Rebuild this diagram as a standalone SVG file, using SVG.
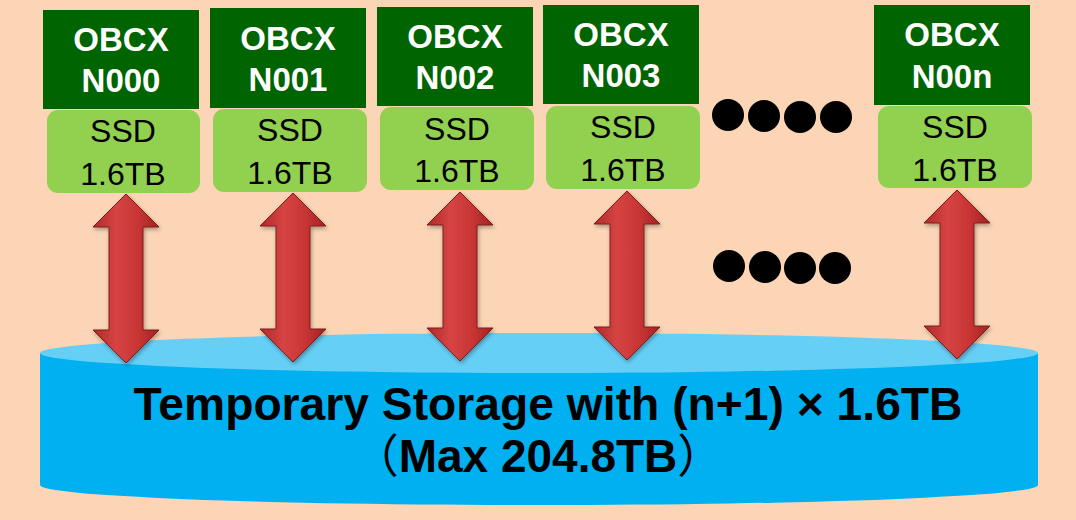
<svg xmlns="http://www.w3.org/2000/svg" width="1076" height="520" viewBox="0 0 1076 520">
<style>
.node{fill:#006400}
.ssd{fill:#92D050}
.nt{font-family:"Liberation Sans",Arial,sans-serif;font-weight:bold;font-size:33px;fill:#fff;text-anchor:middle}
.st{font-family:"Liberation Sans",Arial,sans-serif;font-size:32px;fill:#000;text-anchor:middle}
.dot{fill:#000}
.big{font-family:"Liberation Sans","Noto Sans CJK JP",sans-serif;font-weight:bold;font-size:46px;fill:#000;text-anchor:middle}
.cjk{font-family:"Noto Sans CJK JP",sans-serif;font-weight:normal}
</style>
<defs>
<linearGradient id="rg" x1="0" y1="0" x2="1" y2="0">
<stop offset="0" stop-color="#B02828"/>
<stop offset="0.35" stop-color="#D64444"/>
<stop offset="0.7" stop-color="#C73434"/>
<stop offset="1" stop-color="#A22222"/>
</linearGradient>
<filter id="sh" x="-30%" y="-10%" width="160%" height="130%">
<feGaussianBlur in="SourceAlpha" stdDeviation="2"/>
<feOffset dx="1" dy="2"/>
<feComponentTransfer><feFuncA type="linear" slope="0.35"/></feComponentTransfer>
<feMerge><feMergeNode/><feMergeNode in="SourceGraphic"/></feMerge>
</filter>
</defs>
<rect width="1076" height="520" fill="#FBD5B5"/>

<g id="storage">
<path d="M40 353 L40 485 A499 20 0 0 0 1038 485 L1038 353 Z" fill="#00B0F0"/>
<ellipse cx="539" cy="353" rx="499" ry="20" fill="#66CFF5"/>
<text class="big" x="548" y="420" textLength="829" lengthAdjust="spacingAndGlyphs">Temporary Storage with (n+1) × 1.6TB</text>
<text class="big" x="538" y="472"><tspan class="cjk">（</tspan>Max 204.8TB<tspan class="cjk">）</tspan></text>
</g>

<g id="n000">
<rect class="node" x="43" y="10" width="156" height="99"/>
<text class="nt" x="121" y="51">OBCX</text>
<text class="nt" x="121" y="92">N000</text>
<rect class="ssd" x="47" y="110" width="153" height="83" rx="11"/>
<text class="st" x="123" y="142">SSD</text>
<text class="st" x="123" y="185">1.6TB</text>
</g>
<g id="n001">
<rect class="node" x="210" y="8" width="156" height="100"/>
<text class="nt" x="288" y="50">OBCX</text>
<text class="nt" x="288" y="91">N001</text>
<rect class="ssd" x="213" y="109" width="154" height="83" rx="11"/>
<text class="st" x="290" y="141">SSD</text>
<text class="st" x="290" y="184">1.6TB</text>
</g>
<g id="n002">
<rect class="node" x="377" y="7" width="156" height="99"/>
<text class="nt" x="455" y="48">OBCX</text>
<text class="nt" x="455" y="89">N002</text>
<rect class="ssd" x="380" y="107" width="154" height="83" rx="11"/>
<text class="st" x="457" y="140">SSD</text>
<text class="st" x="457" y="182">1.6TB</text>
</g>
<g id="n003">
<rect class="node" x="543" y="5" width="156" height="99"/>
<text class="nt" x="621" y="46">OBCX</text>
<text class="nt" x="621" y="87">N003</text>
<rect class="ssd" x="546" y="106" width="154" height="83" rx="11"/>
<text class="st" x="623" y="138">SSD</text>
<text class="st" x="623" y="181">1.6TB</text>
</g>
<g id="n00n">
<rect class="node" x="874" y="5" width="156" height="100"/>
<text class="nt" x="952" y="46">OBCX</text>
<text class="nt" x="952" y="88">N00n</text>
<rect class="ssd" x="878" y="106" width="154" height="82" rx="11"/>
<text class="st" x="955" y="138">SSD</text>
<text class="st" x="955" y="181">1.6TB</text>
</g>

<g id="ellipsis">
<circle class="dot" cx="728" cy="115" r="16"/>
<circle class="dot" cx="764" cy="116" r="16"/>
<circle class="dot" cx="800" cy="117" r="16"/>
<circle class="dot" cx="836" cy="117" r="16"/>
<circle class="dot" cx="729" cy="266" r="16"/>
<circle class="dot" cx="765" cy="267" r="16"/>
<circle class="dot" cx="800" cy="268" r="16"/>
<circle class="dot" cx="835" cy="268" r="16"/>
</g>

<g id="connectors" fill="url(#rg)" stroke="#7A1E1E" stroke-width="1" filter="url(#sh)">
<path d="M126 194 L159 227 L143 227 L143 330 L159 330 L126 363 L93 330 L109 330 L109 227 L93 227 Z"/>
<path d="M293 193 L326 226 L310 226 L310 329 L326 329 L293 362 L260 329 L276 329 L276 226 L260 226 Z"/>
<path d="M460 192 L493 225 L477 225 L477 328 L493 328 L460 361 L427 328 L443 328 L443 225 L427 225 Z"/>
<path d="M627 191 L660 224 L644 224 L644 327 L660 327 L627 360 L594 327 L610 327 L610 224 L594 224 Z"/>
<path d="M957 190 L990 223 L974 223 L974 326 L990 326 L957 359 L924 326 L940 326 L940 223 L924 223 Z"/>
</g>
</svg>
